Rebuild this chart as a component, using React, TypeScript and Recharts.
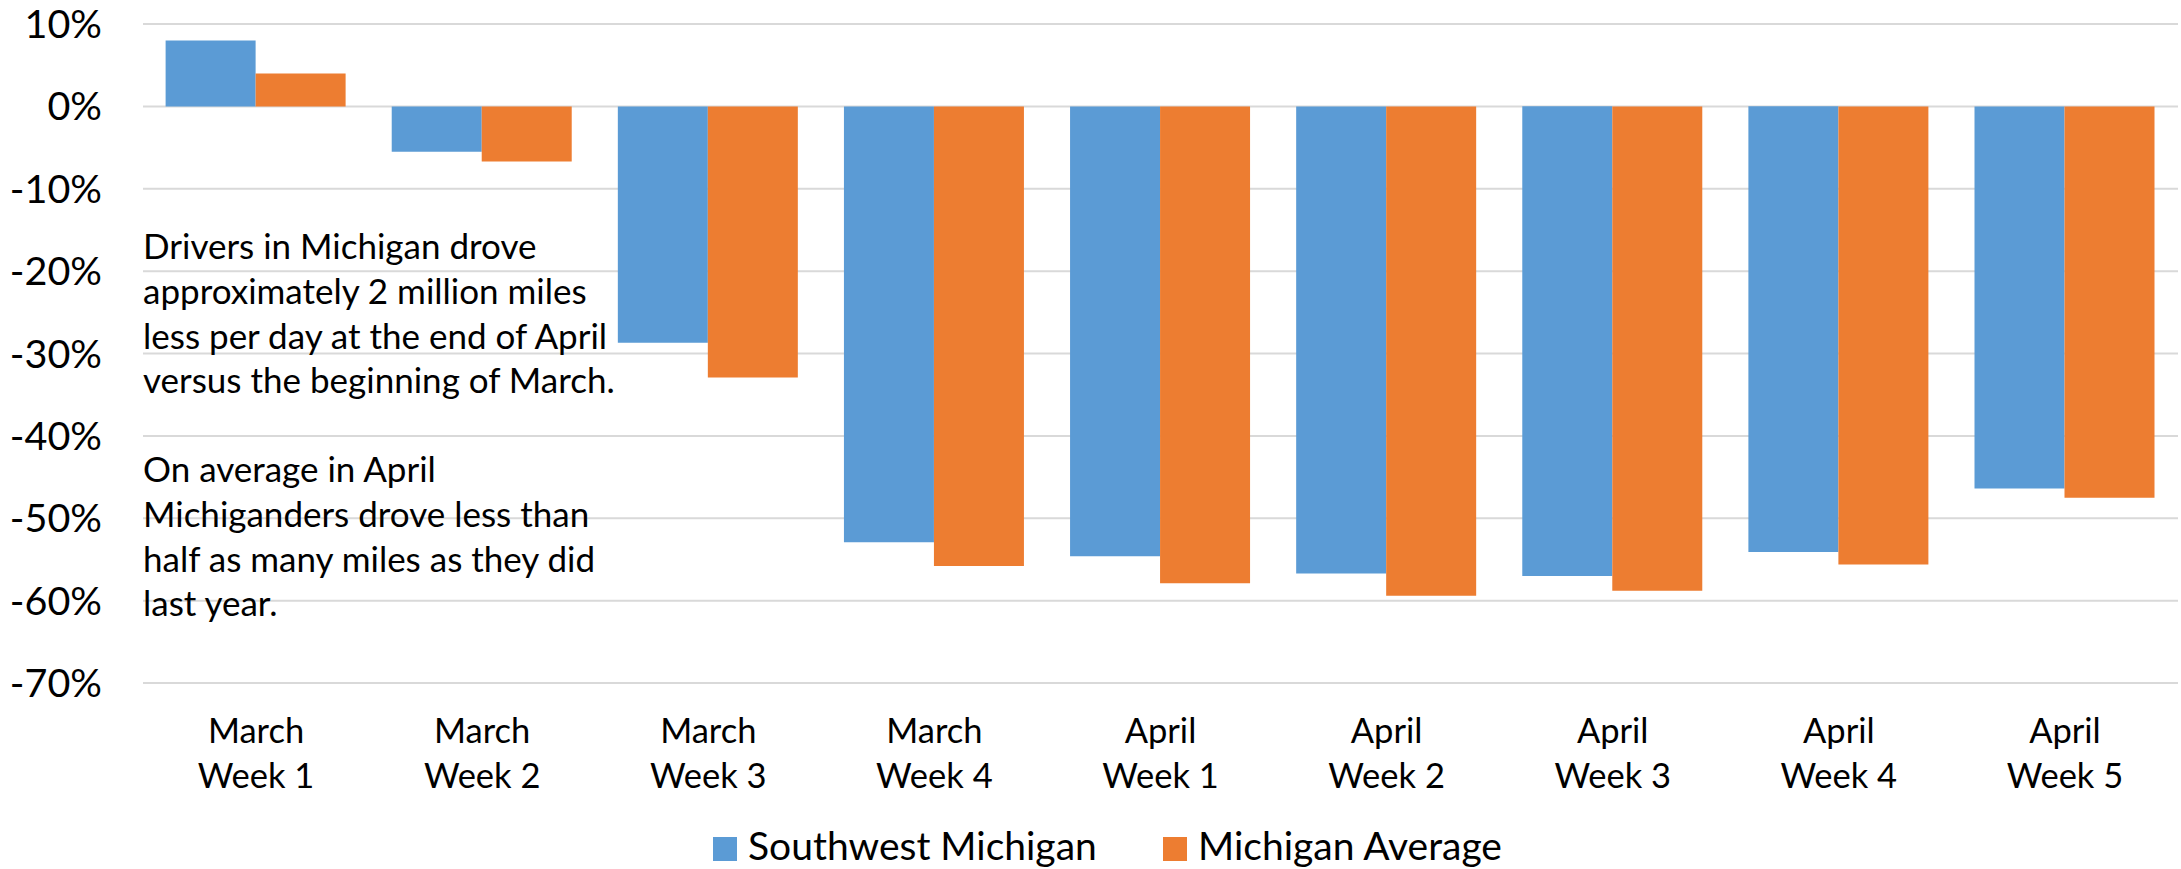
import React from 'react';
import { BarChart, Bar, XAxis, YAxis, CartesianGrid, Legend } from 'recharts';

const months = ['March', 'March', 'March', 'March', 'April', 'April', 'April', 'April', 'April'];
const weeks = ['Week 1', 'Week 2', 'Week 3', 'Week 4', 'Week 1', 'Week 2', 'Week 3', 'Week 4', 'Week 5'];
const southwestMichigan = [8.0, -5.5, -28.7, -52.9, -54.6, -56.7, -57.0, -54.1, -46.4];
const michiganAverage = [4.0, -6.7, -32.9, -55.8, -57.9, -59.4, -58.8, -55.6, -47.5];
const yTicks = [10, 0, -10, -20, -30, -40, -50, -60, -70];
const seriesNames = ['Southwest Michigan', 'Michigan Average'];
const annotationLines = [
  'Drivers in Michigan drove',
  'approximately 2 million miles',
  'less per day at the end of April',
  'versus the beginning of March.',
  '',
  'On average in April',
  'Michiganders drove less than',
  'half as many miles as they did',
  'last year.',
];

const BLUE = '#5B9BD5';
const ORANGE = '#ED7D31';
const FONT = 'Lato, "Noto Sans", sans-serif';

const data = months.map((m, i) => ({
  name: `${m}|${weeks[i]}`,
  sw: southwestMichigan[i],
  mi: michiganAverage[i],
}));

const XTick = (props: any) => {
  const { x, y, payload } = props;
  const [m, w] = String(payload.value).split('|');
  return (
    <text x={x} y={y} textAnchor="middle" fontFamily={FONT} fontSize={34.5} fill="#000">
      <tspan x={x} dy={59.7}>{m}</tspan>
      <tspan x={x} dy={45.6}>{w}</tspan>
    </text>
  );
};

const LegendContent = () => (
  <svg width={2181} height={60} style={{ display: 'block' }}>
    <rect x={713} y={28} width={24} height={24} fill={BLUE} />
    <text x={748} y={51} fontFamily={FONT} fontSize={39} fill="#000">{seriesNames[0]}</text>
    <rect x={1163} y={28} width={24} height={24} fill={ORANGE} />
    <text x={1198} y={51} fontFamily={FONT} fontSize={39} fill="#000">{seriesNames[1]}</text>
  </svg>
);

export default function App() {
  return (
    <div style={{ position: 'absolute', left: 0, top: 0, width: 2181, height: 869, background: '#fff' }}>
      <BarChart
        width={2181}
        height={869}
        data={data}
        margin={{ top: 24, right: 3, left: 0, bottom: 0 }}
        barCategoryGap="10%"
        barGap={0}
      >
        <CartesianGrid vertical={false} stroke="#D9D9D9" strokeWidth={2} />
        <XAxis
          dataKey="name"
          axisLine={false}
          tickLine={false}
          tickSize={0}
          tickMargin={0}
          height={126}
          interval={0}
          tick={<XTick />}
        />
        <YAxis
          width={143}
          domain={[-70, 10]}
          ticks={yTicks}
          interval={0}
          axisLine={false}
          tickLine={false}
          tickSize={0}
          tickMargin={41}
          tickFormatter={(v: number) => `${v}%`}
          tick={{ fontFamily: FONT, fontSize: 39.5, fill: '#000' }}
        />
        <Bar dataKey="sw" name={seriesNames[0]} fill={BLUE} isAnimationActive={false} />
        <Bar dataKey="mi" name={seriesNames[1]} fill={ORANGE} isAnimationActive={false} />
        <Legend
          verticalAlign="bottom"
          content={<LegendContent />}
          wrapperStyle={{ left: 0, width: 2181, bottom: 0, height: 60 }}
        />
      </BarChart>
      <svg
        width={2181}
        height={869}
        style={{ position: 'absolute', left: 0, top: 0, pointerEvents: 'none' }}
      >
        {annotationLines.map((line, i) =>
          line ? (
            <text key={i} x={143} y={259.3 + i * 44.6} fontFamily={FONT} fontSize={35} fill="#000">
              {line}
            </text>
          ) : null
        )}
      </svg>
    </div>
  );
}
